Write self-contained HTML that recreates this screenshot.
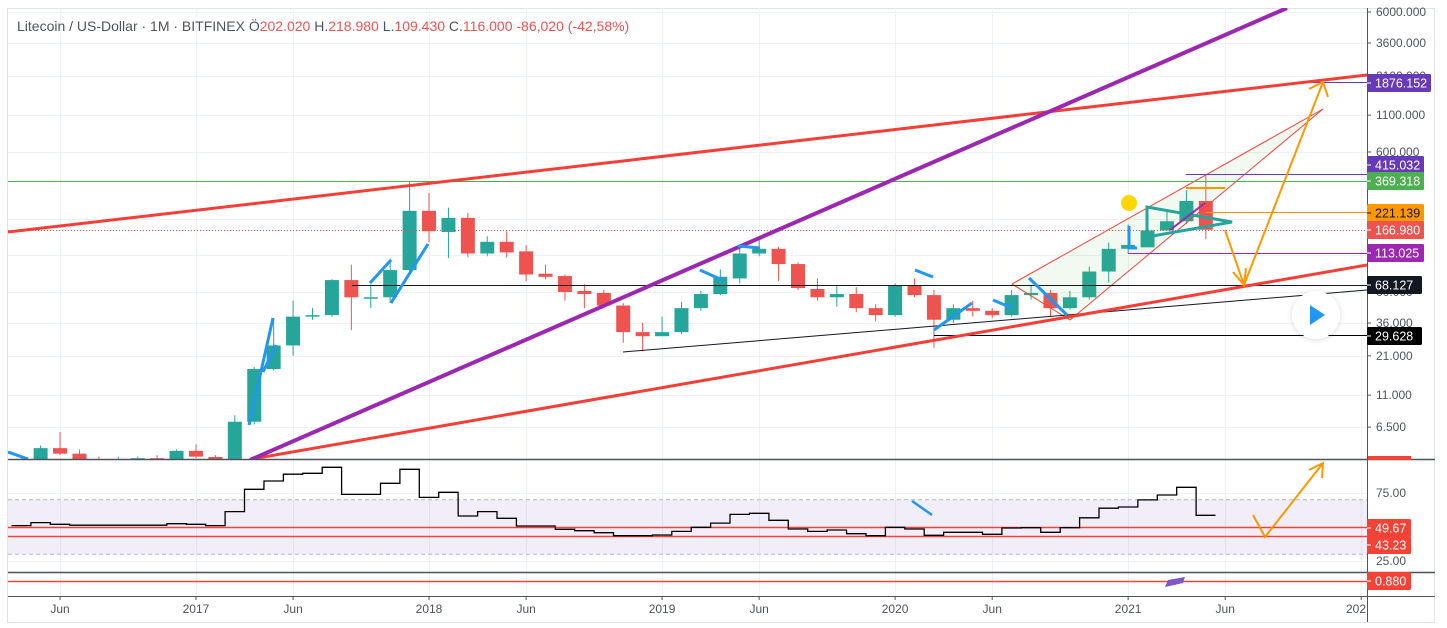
<!DOCTYPE html>
<html><head><meta charset="utf-8">
<style>
html,body{margin:0;padding:0;background:#fff;width:1447px;height:628px;overflow:hidden;font-family:"Liberation Sans",sans-serif;}
svg text{font-family:"Liberation Sans",sans-serif;}
</style></head>
<body>
<svg id="chart" width="1447" height="628" viewBox="0 0 1447 628" xmlns="http://www.w3.org/2000/svg">
<defs>
<clipPath id="mainClip"><rect x="8" y="8" width="1359" height="451"/></clipPath>
<clipPath id="rsiClip"><rect x="8" y="460" width="1359" height="111"/></clipPath>
<filter id="sh" x="-50%" y="-50%" width="200%" height="200%"><feDropShadow dx="0" dy="1" stdDeviation="3" flood-color="#000" flood-opacity="0.15"/></filter>
</defs>
<rect x="0" y="0" width="1447" height="628" fill="#fff"/>
<rect x="7.5" y="8.5" width="1427" height="614" fill="none" stroke="#e0e3eb"/>
<g id="grid"></g>
<g id="rsiBand"></g>
<g id="candles" clip-path="url(#mainClip)"></g>
<g id="drawings" clip-path="url(#mainClip)">
  <polygon points="1012,284 1323,109 1070,320" fill="rgba(76,175,80,0.08)"/>
  <line x1="1012" y1="284" x2="1323" y2="109" stroke="#f44336" stroke-width="1"/>
  <line x1="1070" y1="320" x2="1323" y2="109" stroke="#f44336" stroke-width="1"/>
  <line x1="1012" y1="284" x2="1070" y2="320" stroke="#f44336" stroke-width="1"/>
  <line x1="8" y1="181.5" x2="1367" y2="181.5" stroke="#4caf50" stroke-width="1"/>
  <line x1="8" y1="230.5" x2="1367" y2="230.5" stroke="#ef5350" stroke-width="1" stroke-dasharray="1,2"/>
  <line x1="352" y1="285.5" x2="1367" y2="285.5" stroke="#131722" stroke-width="1"/>
  <line x1="934" y1="335.5" x2="1367" y2="335.5" stroke="#000" stroke-width="1"/>
  <line x1="623" y1="352" x2="1367" y2="290" stroke="#131722" stroke-width="1"/>
  <line x1="1186" y1="174.5" x2="1367" y2="174.5" stroke="#673ab7" stroke-width="1"/>
  <line x1="1128" y1="253.5" x2="1367" y2="253.5" stroke="#9c27b0" stroke-width="1"/>
  <line x1="1206" y1="212.5" x2="1367" y2="212.5" stroke="#ff9800" stroke-width="1"/>
  <line x1="1186" y1="188" x2="1225" y2="188" stroke="#ff9800" stroke-width="2"/>
  <line x1="1303" y1="82.5" x2="1367" y2="82.5" stroke="#673ab7" stroke-width="1"/>
  <line x1="8" y1="232" x2="1367" y2="75" stroke="#f23f37" stroke-width="3"/>
  <line x1="252" y1="459" x2="1367" y2="265" stroke="#f23f37" stroke-width="3"/>
  <line x1="250" y1="460" x2="1287" y2="8" stroke="#9c27b0" stroke-width="4"/>
  <g stroke="#2196f3" stroke-width="3" fill="none">
    <polyline points="8,452 28,459"/>
    <polyline points="249,425 273,318"/>
    <polyline points="263,372 276,345"/>
    <polyline points="370,283 391,260"/>
    <polyline points="391,303 428,244"/>
    <polyline points="700,270 722,280"/>
    <polyline points="738,246 760,248"/>
    <polyline points="915,270 933,277"/>
    <polyline points="934,330 972,303"/>
    <polyline points="993,300 1012,308"/>
    <polyline points="1029,278 1067,315"/>
    <polyline points="1129,226 1129,248 1137,248"/>
  </g>
  <polygon points="1147,207 1147,237 1232,222" fill="none" stroke="#26a69a" stroke-width="3"/>
  <line x1="1170" y1="230" x2="1205" y2="203" stroke="#9c27b0" stroke-width="2"/>
  <ellipse cx="1129" cy="203" rx="8" ry="8" fill="#ffd600"/>
  <g stroke="#ff9800" stroke-width="2" fill="none">
    <polyline points="1225,230 1244,285 1323,82"/>
    <polyline points="1233,272 1244,285 1246,268"/>
    <polyline points="1309,89 1323,82 1328,97"/>
  </g>
</g>
<g id="rsi" clip-path="url(#rsiClip)"></g>
<g>
  <line x1="912" y1="501" x2="932" y2="515" stroke="#2196f3" stroke-width="2.5"/>
  <polyline points="1253,515 1265,537 1323,463" stroke="#ff9800" stroke-width="2" fill="none"/>
  <polyline points="1309,470 1323,463 1322,478" stroke="#ff9800" stroke-width="2" fill="none"/>
</g>
<g id="axes"></g>
<text x="17" y="31" font-size="14" fill="#50535e">Litecoin / US-Dollar · 1M · BITFINEX <tspan fill="#50535e">Ö</tspan><tspan fill="#ef5350">202.020</tspan> <tspan fill="#50535e">H.</tspan><tspan fill="#ef5350">218.980</tspan> <tspan fill="#50535e">L.</tspan><tspan fill="#ef5350">109.430</tspan> <tspan fill="#50535e">C.</tspan><tspan fill="#ef5350">116.000</tspan> <tspan fill="#ef5350">-86,020 (-42,58%)</tspan></text>
<g>
  <circle cx="1316" cy="315" r="24" fill="#fff" filter="url(#sh)"/>
  <polygon points="1310,305 1310,325 1325,315" fill="#2196f3"/>
</g>
</svg>
<script>
const months=["Apr16","May16","Jun16","Jul16","Aug16","Sep16","Oct16","Nov16","Dec16","Jan17","Feb17","Mar17","Apr17","May17","Jun17","Jul17","Aug17","Sep17","Oct17","Nov17","Dec17","Jan18","Feb18","Mar18","Apr18","May18","Jun18","Jul18","Aug18","Sep18","Oct18","Nov18","Dec18","Jan19","Feb19","Mar19","Apr19","May19","Jun19","Jul19","Aug19","Sep19","Oct19","Nov19","Dec19","Jan20","Feb20","Mar20","Apr20","May20","Jun20","Jul20","Aug20","Sep20","Oct20","Nov20","Dec20","Jan21","Feb21","Mar21","Apr21","May21"];
const opens=[3.5,3.8,4.6,4.2,3.8,3.75,3.8,3.9,3.8,4.4,3.98,3.8,7.1,16.9,24.9,40,41,73,55,55,86,228,161,203,113,137,117,81,78,61,59,48,31,29,31,46,58,75,113,122,95,63,55,58,46,41,67,57,38,46,44,41,57,59,46,55,84,122,125,165,192,268];
const highs=[3.9,4.8,6.0,4.5,4.0,4.0,4.0,4.1,4.5,4.9,4.1,7.9,17.5,39,52,46,74,94,68,104,372,305,240,220,150,163,130,94,80,68,62,50,36,40,51,61,87,123,141,126,98,75,66,65,49,69,75,62,49,52,46,62,67,62,61,91,135,182,247,230,320,411];
const lows=[3.3,3.7,4.1,3.7,3.6,3.6,3.7,3.6,3.8,3.9,3.7,3.8,6.8,16.5,21,38,40,32,46,50,84,136,105,106,108,106,72,74,52,46,46,26,22.6,29,30,44,57,69,108,72,62,52,47,43,37,40,55,24,36,40,39,40,53,40,45,53,70,113,126,165,183,143];
const closes=[3.8,4.6,4.2,3.8,3.75,3.8,3.9,3.8,4.4,4.0,3.8,7.1,16.9,24.9,40,41,73,55,55,86,228,163,203,113,137,115,80,77,60,58,48,31,29,31,46,58,77,113,122,95,64,55,58,46,41,67,57,38,46,44,41,57,59,46,55,84,122,130,165,192,268,167];
const rsi=[51.0,53.2,52.0,51.3,51.3,51.3,51.3,51.3,52.4,52.0,51.0,61.3,77.7,83.8,88.8,89.5,93.9,74.0,74.0,82.1,92.4,71.8,75.5,58.1,61.3,56.4,50.7,50.7,48.3,47.3,45.8,43.6,43.6,44.1,46.8,49.8,52.9,59.3,60.1,54.9,48.5,46.8,47.8,45.1,43.6,49.8,48.5,43.9,46.1,46.1,44.6,49.3,49.5,46.1,49.5,56.8,63.8,64.7,69.9,73.5,79.2,58.6];
const priceTicks=[6000,3600,2100,1100,600,200,110,60,36,21,11,6.5];
const priceTickLabels=["6000.000","3600.000","2100.000","1100.000","600.000","","","60.000","36.000","21.000","11.000","6.500"];
const timeTicks=[2,9,14,21,26,33,38,45,50,57,62,69];
const timeTickLabels=["Jun","2017","Jun","2018","Jun","2019","Jun","2020","Jun","2021","Jun","202"];
const rsiLevels=[75,25];
const rsiLevelLabels=["75.00","25.00"];

const NS="http://www.w3.org/2000/svg";
function xOf(i){return 21.2+i*19.42;}
function yP(p){return 12+(3.778-Math.log10(p))*140;}
function yR(v){return 493+(75-v)*1.36;}
function mk(tag,attrs,parent){const e=document.createElementNS(NS,tag);for(const k in attrs)e.setAttribute(k,attrs[k]);parent.appendChild(e);return e;}

const grid=document.getElementById('grid');
priceTicks.forEach((p,i)=>{
  const y=Math.round(yP(p))+0.5;
  const l=mk('line',{x1:8,x2:1367,y1:y,y2:y,stroke:'#eef1f5','stroke-width':1},grid);
  
  
});
timeTicks.forEach((t,i)=>{
  const x=Math.round(xOf(t))+0.5;
  const l=mk('line',{x1:x,x2:x,y1:8,y2:596,stroke:'#eef1f5','stroke-width':1},grid);
  
  
});
rsiLevels.forEach(v=>{
  const y=Math.round(yR(v))+0.5;
  const l=mk('line',{x1:8,x2:1367,y1:y,y2:y,stroke:'#eef1f5','stroke-width':1},grid);
  
  
});

const band=document.getElementById('rsiBand');
const br=mk('rect',{x:8,y:yR(70),width:1359,height:yR(30)-yR(70),fill:'rgba(126,87,194,0.1)'},band);


[70,30].forEach(v=>{
  const l=mk('line',{x1:8,x2:1367,y1:yR(v),y2:yR(v),stroke:'#b2b5be','stroke-dasharray':'4,3','stroke-width':1},band);
  
  
});

const cg=document.getElementById('candles');
for(let i=0;i<opens.length;i++){
  const up=closes[i]>=opens[i];
  const col=up?'#26a69a':'#ef5350';
  const x=xOf(i);
  const g=mk('g',{},cg);
  
  
  mk('line',{x1:x,x2:x,y1:yP(highs[i]),y2:yP(lows[i]),stroke:col,'stroke-width':1},g);
  const top=yP(Math.max(opens[i],closes[i])),bot=yP(Math.min(opens[i],closes[i]));
  mk('rect',{x:x-7,y:top,width:14,height:Math.max(1.5,bot-top),fill:col},g);
}

const rg=document.getElementById('rsi');
[49.67,43.23].forEach(v=>{
  const l=mk('line',{x1:8,x2:1367,y1:Math.round(yR(v))+0.5,y2:Math.round(yR(v))+0.5,stroke:'#f44336','stroke-width':1.5},rg);
  
  
});
let d='';
for(let i=0;i<rsi.length;i++){
  const x0=xOf(i)-9.7,x1=xOf(i)+9.7,y=yR(rsi[i]);
  d+=(i===0?'M':'L')+x0.toFixed(1)+','+y.toFixed(1)+'L'+x1.toFixed(1)+','+y.toFixed(1);
}
const rl=mk('path',{d:d,fill:'none',stroke:'#000','stroke-width':1.3},rg);



const ax=document.getElementById('axes');
function ln(a,nm){const l=mk('line',a,ax);return l;}
ln({x1:8,x2:1435,y1:459.5,y2:459.5,stroke:'#50535e','stroke-width':1.5},'pane-separator');
ln({x1:8,x2:1435,y1:572.5,y2:572.5,stroke:'#50535e','stroke-width':1.5},'pane-separator-2');
ln({x1:8,x2:1367,y1:581.5,y2:581.5,stroke:'#f44336','stroke-width':1.5},'indicator-level');
ln({x1:8,x2:1435,y1:596.5,y2:596.5,stroke:'#50535e','stroke-width':1},'time-axis-line');
ln({x1:1367.5,x2:1367.5,y1:8,y2:622,stroke:'#50535e','stroke-width':1},'price-axis-line');
const pm=mk('polygon',{points:'1165,587 1168,580 1185,577 1183,583',fill:'#7e57c2'},ax);


const rb=mk('rect',{x:1368,y:456,width:43,height:4,fill:'#f44336'},ax);



priceTicks.forEach((p,i)=>{
  if(!priceTickLabels[i])return;
  const y=yP(p);
  ln({x1:1367,x2:1371,y1:y,y2:y,stroke:'#50535e'},'price-tick');
  const t=mk('text',{x:1376,y:y+4,'font-size':12,fill:'#50535e'},ax);
  t.textContent=priceTickLabels[i];
  
  
});
rsiLevels.forEach((v,i)=>{
  const y=yR(v);
  const t=mk('text',{x:1376,y:y+4,'font-size':12,fill:'#50535e'},ax);
  t.textContent=rsiLevelLabels[i];
  
  
});
timeTicks.forEach((tk,i)=>{
  const x=xOf(tk);
  ln({x1:x,x2:x,y1:596,y2:600,stroke:'#50535e'},'time-tick');
  const t=mk('text',{x:i===timeTicks.length-1?1366:x,y:613,'font-size':12,fill:'#50535e','text-anchor':i===timeTicks.length-1?'end':'middle'},ax);
  t.textContent=timeTickLabels[i];
  
  
});

const boxLabels=["1876.152","415.032","369.318","221.139","166.980","113.025","68.127","29.628","49.67","43.23","0.880"];
const boxYs=[83,165,181,213,230,253,285,336,528,545,581];
const boxColors=["#673ab7","#673ab7","#4caf50","#ff9800","#ef5350","#9c27b0","#131722","#000000","#f44336","#f44336","#f44336"];
const boxText=["#fff","#fff","#fff","#131722","#fff","#fff","#fff","#fff","#fff","#fff","#fff"];
boxLabels.forEach((s,i)=>{
  const w=s.length>=8?64:(s.length===7?57:(s.length===6?55:44));
  const g=mk('g',{},ax);
  
  
  mk('rect',{x:1367,y:boxYs[i]-9,width:w,height:18,rx:1.5,fill:boxColors[i]},g);
  mk('line',{x1:1367,x2:1371,y1:boxYs[i],y2:boxYs[i],stroke:boxText[i]},g);
  const t=mk('text',{x:1375,y:boxYs[i]+4.5,'font-size':12.5,fill:boxText[i]},g);
  t.textContent=s;
});
</script>
</body></html>
